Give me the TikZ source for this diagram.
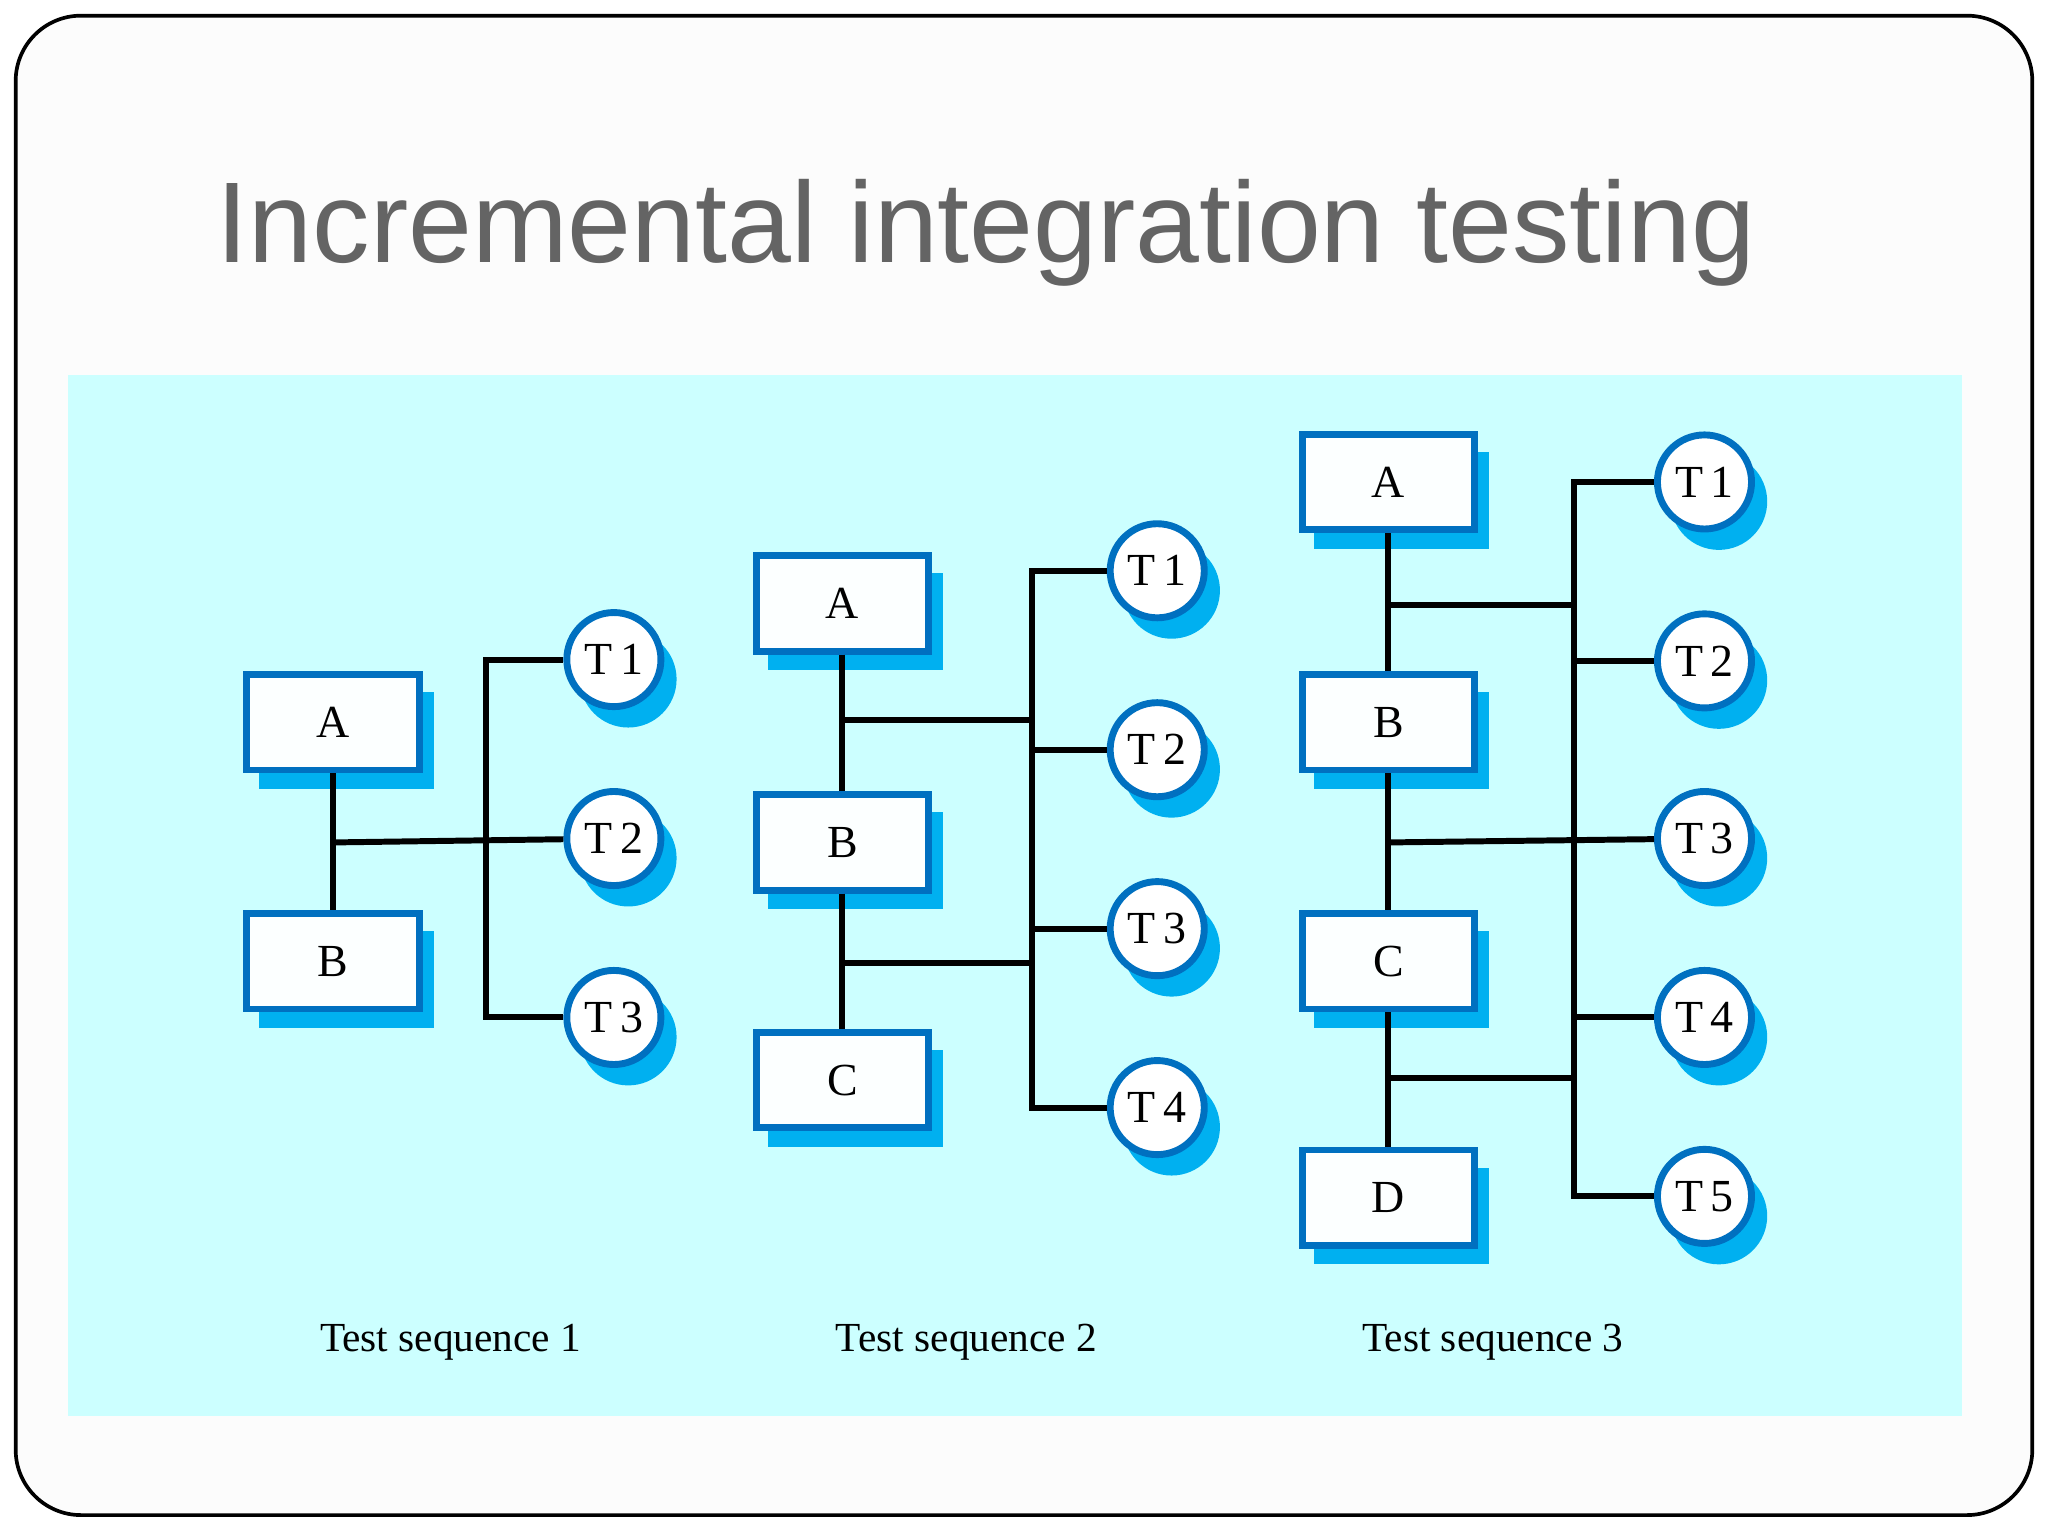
\documentclass[tikz,border=0pt]{standalone}
\usepackage{fontspec}
\setmainfont{Liberation Serif}
\newfontfamily\titlefont{Liberation Sans}
\usetikzlibrary{calc}
\definecolor{panel}{RGB}{204,255,255}
\definecolor{bord}{RGB}{0,112,192}
\definecolor{shad}{RGB}{0,176,240}
\definecolor{ttl}{RGB}{100,100,100}
\newcommand{\mybox}[3]{\node[shbox] at ($(#2)+(10,14)$) {}; \node[box] (#1) at (#2) {#3};}
\newcommand{\mytc}[3]{\node[shc] at ($(#2)+(11,15)$) {}; \node[tc] (#1) at (#2) {#3};}
\begin{document}
\begin{tikzpicture}[x=0.01cm,y=-0.01cm,
  box/.style={draw=bord,line width=1.5pt,fill=white!95!panel,minimum width=1.32cm,minimum height=0.73cm,inner sep=0pt,font=\fontsize{10}{12}\selectfont},
  shbox/.style={fill=shad,minimum width=1.34cm,minimum height=0.74cm,inner sep=0pt},
  tc/.style={circle,draw=bord,line width=1.5pt,fill=white,minimum size=0.72cm,inner sep=0pt,font=\fontsize{10}{12}\selectfont},
  shc/.style={circle,fill=shad,minimum size=0.74cm,inner sep=0pt},
  ln/.style={line width=1.3pt,black},
  lab/.style={font=\fontsize{9}{10}\selectfont}]
\useasboundingbox (0,0) rectangle (1568,1176);
\fill[white] (0,0) rectangle (1568,1176);
\draw[line width=0.8pt,rounded corners=0.5cm,fill=white!98!gray] (12,12) rectangle (1556,1160);
\node[font=\titlefont\fontsize{25}{28}\selectfont,text=ttl] (title) at (755,178) {Incremental integration testing};
\fill[panel] (52,287) rectangle (1502,1084);
% ---- sequence 1
\mybox{a1}{255,553}{A}
\mybox{b1}{255,736}{B}
\mytc{t11}{470,505}{T\,1}
\mytc{t12}{470,642}{T\,2}
\mytc{t13}{470,779}{T\,3}
\coordinate (j1) at (255,645);
\coordinate (v1t) at (372,505);
\coordinate (v1b) at (372,779);
\draw[ln] (a1) -- (b1);
\draw[ln] (j1) -- (t12);
\draw[ln] (t11) -- (v1t) -- (v1b) -- (t13);
\node[lab] (s1) at (345,1028) {Test sequence 1};
% ---- sequence 2
\mybox{a2}{645,462}{A}
\mybox{b2}{645,645}{B}
\mybox{c2}{645,827}{C}
\mytc{t21}{886,437}{T\,1}
\mytc{t22}{886,574}{T\,2}
\mytc{t23}{886,711}{T\,3}
\mytc{t24}{886,848}{T\,4}
\coordinate (v2t) at (790,437);
\coordinate (v2b) at (790,848);
\coordinate (j2a) at (645,551);
\coordinate (j2b) at (645,737);
\coordinate (k2a) at (790,551);
\coordinate (k2b) at (790,737);
\draw[ln] (a2) -- (b2) -- (c2);
\draw[ln] (t21) -- (v2t) -- (v2b) -- (t24);
\draw[ln] (v2t |- t22) -- (t22);
\draw[ln] (v2t |- t23) -- (t23);
\draw[ln] (j2a) -- (k2a);
\draw[ln] (j2b) -- (k2b);
\node[lab] (s2) at (740,1028) {Test sequence 2};
% ---- sequence 3
\mybox{a3}{1063,369}{A}
\mybox{b3}{1063,553}{B}
\mybox{c3}{1063,736}{C}
\mybox{d3}{1063,917}{D}
\mytc{t31}{1305,369}{T\,1}
\mytc{t32}{1305,506}{T\,2}
\mytc{t33}{1305,642}{T\,3}
\mytc{t34}{1305,779}{T\,4}
\mytc{t35}{1305,916}{T\,5}
\coordinate (v3t) at (1205,369);
\coordinate (v3b) at (1205,916);
\coordinate (j3a) at (1063,463);
\coordinate (j3b) at (1063,645);
\coordinate (j3c) at (1063,825);
\draw[ln] (a3) -- (b3) -- (c3) -- (d3);
\draw[ln] (t31) -- (v3t) -- (v3b) -- (t35);
\draw[ln] (v3t |- t32) -- (t32);
\draw[ln] (v3t |- t34) -- (t34);
\draw[ln] (j3a) -- (v3t |- j3a);
\draw[ln] (j3b) -- (t33);
\draw[ln] (j3c) -- (v3t |- j3c);
\node[lab] (s3) at (1143,1028) {Test sequence 3};
\end{tikzpicture}
\end{document}
